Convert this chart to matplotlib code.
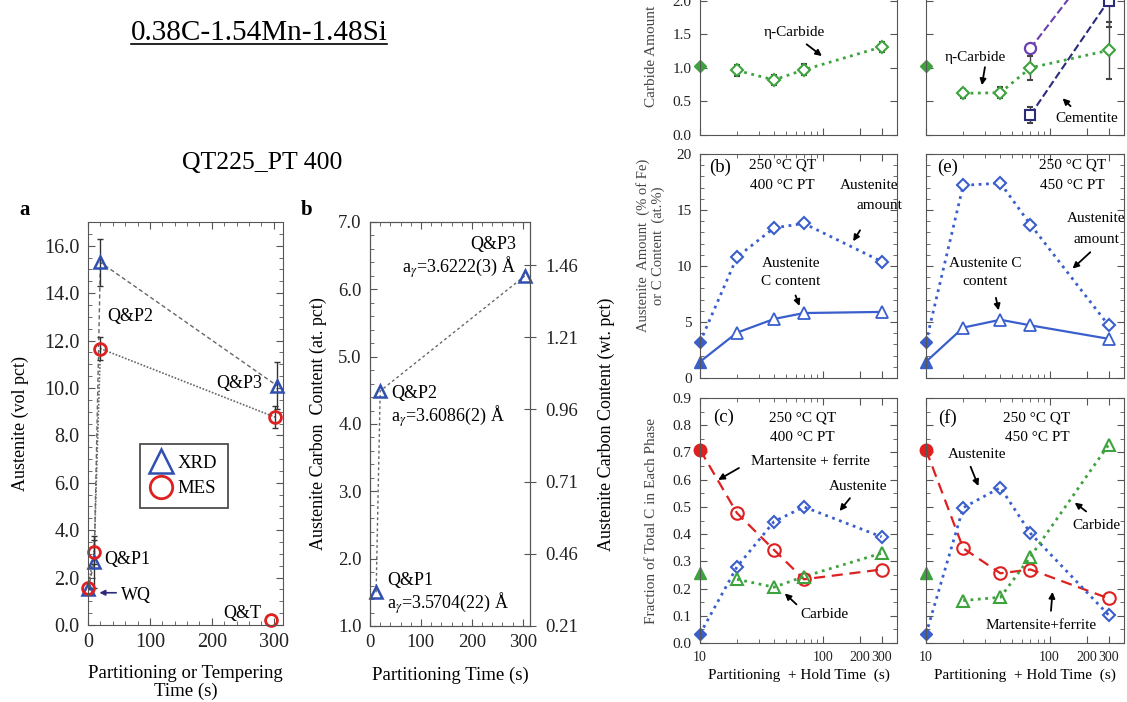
import numpy as np
import matplotlib
matplotlib.use('Agg')
import matplotlib.pyplot as plt
from matplotlib.ticker import (MultipleLocator, LogLocator, NullFormatter,
                               FormatStrFormatter)
from matplotlib.lines import Line2D

plt.rcParams['font.family'] = ['Liberation Serif', 'DejaVu Serif']
plt.rcParams['mathtext.fontset'] = 'stix'

# ---- panel a: austenite fraction, XRD vs MES ----
xrd_t = [0, 10, 20, 305]
xrd_v = [1.5, 2.67, 15.3, 10.1]
xrd_err = [0.0, 1.1, 1.0, 1.0]
mes_t = [0, 10, 20, 302]
mes_v = [1.55, 3.09, 11.66, 8.77]
mes_err = [0.0, 0.5, 0.5, 0.45]
qt_t = [295]
qt_v = [0.2]

# ---- panel b: austenite carbon content ----
pt_time = [12, 20, 304]
c_at = [1.5, 4.49, 6.2]
pt_names = ['Q&P1', 'Q&P2', 'Q&P3']
lattice = ['3.5704(22)', '3.6086(2)', '3.6222(3)']
wt_ticks = [0.21, 0.46, 0.71, 0.96, 1.21, 1.46]

# ---- right panels: partitioning + hold time (log scale) ----
t_start = [10]
t_hold = [20, 40, 70, 300]
t_cem = [70, 300]

# (a) / (d) carbide amount
eta_400_0 = [1.02]
eta_400 = [0.96, 0.82, 0.97, 1.31]
eta_400_err = [0.08, 0.08, 0.08, 0.08]
eta_450_0 = [1.02]
eta_450 = [0.62, 0.63, 1.0, 1.26]
eta_450_err = [0.07, 0.08, 0.18, 0.42]
cem_450 = [0.3, 2.0]
cem_450_err = [0.12, 0.4]
tot_450 = [1.29, 2.8]

# (b) / (e) austenite amount and C content
aus_amt_0 = [3.2]
aus_c_0 = [1.45]
aus_amt_400 = [10.8, 13.4, 13.8, 10.4]
aus_c_400 = [4.05, 5.27, 5.8, 5.9]
aus_amt_450 = [17.2, 17.4, 13.7, 4.7]
aus_c_450 = [4.5, 5.2, 4.7, 3.5]

# (c) / (f) fraction of total C in each phase
mart_0 = [0.71]
aus_f_0 = [0.033]
carb_0 = [0.256]
mart_400 = [0.477, 0.342, 0.234, 0.27]
aus_f_400 = [0.28, 0.446, 0.50, 0.39]
carb_400 = [0.234, 0.205, 0.244, 0.33]
mart_450 = [0.348, 0.256, 0.27, 0.164]
aus_f_450 = [0.497, 0.571, 0.403, 0.103]
carb_450 = [0.156, 0.168, 0.317, 0.728]

BLUE_A = '#3050b0'
RED = '#dd2020'
GREEN = '#3ea33e'
BLUE = '#3a5fcd'
NAVY = '#2b2b7a'
PURPLE = '#6a3fb0'
GRAY = '#666666'
SPINE = '#555555'

W, H = 1127, 702
fig = plt.figure(figsize=(W / 100, H / 100), dpi=100)


def px_axes(x0, y0, x1, y1):
    # pixel box (top-left origin) -> figure axes
    return fig.add_axes([x0 / W, 1 - y1 / H, (x1 - x0) / W, (y1 - y0) / H])


def style(ax, size, pad=4):
    for s in ax.spines.values():
        s.set_color(SPINE)
    ax.tick_params(which='both', direction='in', top=True, right=True,
                   colors=SPINE, labelcolor='#222222', labelsize=size, pad=pad)
    ax.tick_params(which='major', length=5)
    ax.tick_params(which='minor', length=3)


# titles
title = fig.text(259 / W, 1 - 33 / H, '0.38C-1.54Mn-1.48Si', ha='center',
                 va='center', fontsize=21)
fig.text(262 / W, 1 - 163 / H, 'QT225_PT 400', ha='center', va='center',
         fontsize=18.5)
fig.canvas.draw()
bb = title.get_window_extent().transformed(fig.transFigure.inverted())
fig.add_artist(Line2D([bb.x0, bb.x1], [bb.y0 + 0.003, bb.y0 + 0.003],
                      color='black', lw=1.2))

# ---------------- panel a ----------------
ax = px_axes(88, 222, 283, 625)
style(ax, 14.5, pad=6)
ax.plot(xrd_t, xrd_v, ls=(0, (3, 2)), color=GRAY, lw=1)
ax.plot(mes_t, mes_v, ls=(0, (1, 1)), color=GRAY, lw=1.2)
ax.errorbar(xrd_t, xrd_v, yerr=xrd_err, fmt='none', ecolor='#333333',
            elinewidth=1, capsize=2)
ax.errorbar(mes_t, mes_v, yerr=mes_err, fmt='none', ecolor='#333333',
            elinewidth=1, capsize=2)
ax.plot(xrd_t, xrd_v, '^', ms=9, mfc='none', mec=BLUE_A, mew=1.8, ls='none',
        label='XRD', clip_on=False)
ax.plot(mes_t, mes_v, 'o', ms=8.5, mfc='none', mec=RED, mew=2, ls='none',
        label='MES', clip_on=False)
ax.plot(qt_t, qt_v, 'o', ms=8.5, mfc='none', mec=RED, mew=2, ls='none',
        clip_on=False)
ax.set_xlim(0, 315)
ax.set_ylim(0, 17)
ax.xaxis.set_major_locator(MultipleLocator(100))
ax.xaxis.set_minor_locator(MultipleLocator(20))
ax.yaxis.set_major_locator(MultipleLocator(2))
ax.yaxis.set_minor_locator(MultipleLocator(0.5))
ax.yaxis.set_major_formatter(FormatStrFormatter('%.1f'))
ax.set_xlabel('Partitioning or Tempering\nTime (s)', fontsize=13.5,
              linespacing=1.05, labelpad=9)
ax.set_ylabel('Austenite (vol pct)', fontsize=13)
ax.yaxis.set_label_coords(-0.3, 0.5)
ax.text(68, 13.0, 'Q&P2', fontsize=13, ha='center', va='center')
ax.text(245, 10.2, 'Q&P3', fontsize=13, ha='center', va='center')
ax.text(63, 2.78, 'Q&P1', fontsize=13, ha='center', va='center')
ax.text(78, 1.26, 'WQ', fontsize=13, ha='center', va='center')
ax.annotate('', xy=(14, 1.36), xytext=(50, 1.36),
            arrowprops=dict(arrowstyle='-|>', color=NAVY, lw=1.2,
                            mutation_scale=8))
ax.text(249, 0.5, 'Q&T', fontsize=13, ha='center', va='center')
leg = ax.legend(loc='center', bbox_to_anchor=(0.492, 0.37), fontsize=13.5,
                markerscale=1.9, handlelength=1.1, handletextpad=0.35,
                borderpad=0.55, labelspacing=0.45, fancybox=False,
                edgecolor='#222222')
leg.get_frame().set_linewidth(1.3)
fig.text(25 / W, 1 - 210 / H, 'a', fontsize=15, fontweight='bold',
         ha='center', va='center')

# ---------------- panel b ----------------
ax = px_axes(370, 222, 530, 626)
style(ax, 13.5, pad=6)
ax.tick_params(right=False)
ax.plot(pt_time, c_at, ls=(0, (2, 2)), color=GRAY, lw=1)
ax.plot(pt_time, c_at, '^', ms=8, mfc='none', mec=BLUE_A, mew=1.8, ls='none',
        clip_on=False)
ax.set_xlim(0, 314)
ax.set_ylim(1, 7)
ax.xaxis.set_major_locator(MultipleLocator(100))
ax.xaxis.set_minor_locator(MultipleLocator(20))
ax.yaxis.set_major_locator(MultipleLocator(1))
ax.yaxis.set_minor_locator(MultipleLocator(0.2))
ax.yaxis.set_major_formatter(FormatStrFormatter('%.1f'))
ax.set_xlabel('Partitioning Time (s)', fontsize=13.5, labelpad=11)
ax.set_ylabel('Austenite Carbon  Content (at. pct)', fontsize=13)
ax.yaxis.set_label_coords(-0.27, 0.5)
ax.text(287, 6.66, pt_names[2], fontsize=13, ha='right', va='center')
ax.text(287, 6.33, r'a$_\gamma$=' + lattice[2] + ' Å', fontsize=13,
        ha='right', va='center')
ax.text(41, 4.46, pt_names[1], fontsize=13, ha='left', va='center')
ax.text(41, 4.12, r'a$_\gamma$=' + lattice[1] + ' Å', fontsize=13,
        ha='left', va='center')
ax.text(33, 1.68, pt_names[0], fontsize=13, ha='left', va='center')
ax.text(33, 1.34, r'a$_\gamma$=' + lattice[0] + ' Å', fontsize=13,
        ha='left', va='center')
ax2 = ax.twinx()
for s in ax2.spines.values():
    s.set_color(SPINE)
ax2.set_ylim(0.21, 0.21 + 6 * 0.25 / 1.072)
ax2.set_yticks(wt_ticks)
ax2.set_yticklabels(['%.2f' % v for v in wt_ticks])
ax2.tick_params(direction='inout', length=8, colors=SPINE,
                labelcolor='#222222', labelsize=13.5, pad=7)
ax2.set_ylabel('Austenite Carbon Content (wt. pct)', fontsize=13)
ax2.yaxis.set_label_coords(1.42, 0.5)
fig.text(307 / W, 1 - 210 / H, 'b', fontsize=15, fontweight='bold',
         ha='center', va='center')

# ---------------- right grid ----------------
cols = [(700, 897), (926, 1124)]
rows = [(-33, 135), (154, 378), (398, 643)]
axs = [[px_axes(c[0], r[0], c[1], r[1]) for c in cols] for r in rows]

for i, row in enumerate(axs):
    for j, a in enumerate(row):
        style(a, 11, pad=6)
        a.tick_params(axis='x', labelsize=10)
        a.set_xscale('log')
        a.set_xlim(10, 400)
        a.set_xticks([10, 100, 200, 300])
        a.xaxis.set_minor_locator(LogLocator(subs=np.arange(2, 10)))
        a.xaxis.set_minor_formatter(NullFormatter())
        if i == 2:
            a.set_xticklabels(['10', '100', '200', '300'])
            a.set_xlabel('Partitioning  + Hold Time  (s)', fontsize=11,
                         labelpad=3)
        else:
            a.set_xticklabels([])
        if j == 1:
            a.tick_params(axis='y', labelleft=False)

txt = dict(fontsize=11, ha='center', va='center')
arw = dict(arrowstyle='-|>', color='black', lw=1.3, mutation_scale=9)


def note(a, xy, xytext):
    a.annotate('', xy=xy, xytext=xytext, xycoords='axes fraction',
               textcoords='axes fraction', arrowprops=arw)


# top row: carbide amount
for a in axs[0]:
    a.set_ylim(0, 2.5)
    a.yaxis.set_major_locator(MultipleLocator(0.5))
    a.yaxis.set_major_formatter(FormatStrFormatter('%.1f'))
a = axs[0][0]
a.plot(t_hold, eta_400, ':', color=GREEN, lw=2)
a.errorbar(t_hold, eta_400, yerr=eta_400_err, fmt='D', ms=6.5, mfc='white',
           mec=GREEN, mew=1.5, ecolor='#444444', elinewidth=1, capsize=2)
a.plot(t_start, eta_400_0, 'D', ms=6, color=GREEN, clip_on=False)
a.set_ylabel('Carbide Amount', fontsize=11, color='#444444')
a.yaxis.set_label_coords(-0.215, 0.47)
a.text(0.48, 0.61, 'η-Carbide', transform=a.transAxes, **txt)
note(a, (0.63, 0.46), (0.53, 0.55))

a = axs[0][1]
a.plot(t_cem, tot_450, '--', color=PURPLE, lw=1.5)
a.plot(t_cem, cem_450, '--', color=NAVY, lw=1.5)
a.plot(t_hold, eta_450, ':', color=GREEN, lw=2)
a.errorbar(t_hold, eta_450, yerr=eta_450_err, fmt='D', ms=6.5, mfc='white',
           mec=GREEN, mew=1.5, ecolor='#444444', elinewidth=1, capsize=2)
a.errorbar(t_cem, cem_450, yerr=cem_450_err, fmt='s', ms=6.5, mfc='white',
           mec=NAVY, mew=1.5, ecolor='#444444', elinewidth=1, capsize=2)
a.plot(t_cem, tot_450, 'o', ms=8, mfc='white', mec=PURPLE, mew=1.6)
a.plot(t_start, eta_450_0, 'D', ms=6, color=GREEN, clip_on=False)
a.text(0.25, 0.46, 'η-Carbide', transform=a.transAxes, **txt)
note(a, (0.28, 0.28), (0.30, 0.42))
a.text(0.81, 0.10, 'Cementite', transform=a.transAxes, **txt)
note(a, (0.68, 0.23), (0.74, 0.16))

# middle row: austenite amount / C content
for a in axs[1]:
    a.set_ylim(0, 20)
    a.yaxis.set_major_locator(MultipleLocator(5))
    a.yaxis.set_minor_locator(MultipleLocator(1))
for a, amt, cc in [(axs[1][0], aus_amt_400, aus_c_400),
                   (axs[1][1], aus_amt_450, aus_c_450)]:
    a.plot(t_start + t_hold, aus_amt_0 + amt, ':', color=BLUE, lw=2)
    a.plot(t_start + t_hold, aus_c_0 + cc, '-', color=BLUE, lw=1.6)
    a.plot(t_hold, amt, 'D', ms=6.5, mfc='white', mec=BLUE, mew=1.5)
    a.plot(t_hold, cc, '^', ms=8, mfc='white', mec=BLUE, mew=1.3,
           clip_on=False)
    a.plot(t_start, aus_amt_0, 'D', ms=6.5, color=BLUE, clip_on=False)
    a.plot(t_start, aus_c_0, '^', ms=8, color=BLUE, clip_on=False)
a = axs[1][0]
a.set_ylabel('Austenite  Amount  (% of Fe)\nor C Content  (at.%)',
             fontsize=10.5, color='#444444', linespacing=1.1)
a.yaxis.set_label_coords(-0.18, 0.59)
a.text(0.10, 0.94, '(b)', transform=a.transAxes, fontsize=13.5, ha='center',
       va='center')
a.text(0.42, 0.95, '250 °C QT', transform=a.transAxes, **txt)
a.text(0.42, 0.86, '400 °C PT', transform=a.transAxes, **txt)
a.text(0.86, 0.86, 'Austenite', transform=a.transAxes, **txt)
a.text(0.91, 0.77, 'amount', transform=a.transAxes, **txt)
note(a, (0.77, 0.60), (0.82, 0.67))
a.text(0.46, 0.51, 'Austenite', transform=a.transAxes, **txt)
a.text(0.46, 0.43, 'C content', transform=a.transAxes, **txt)
note(a, (0.51, 0.31), (0.48, 0.38))
a = axs[1][1]
a.text(0.11, 0.94, '(e)', transform=a.transAxes, fontsize=13.5, ha='center',
       va='center')
a.text(0.74, 0.95, '250 °C QT', transform=a.transAxes, **txt)
a.text(0.74, 0.86, '450 °C PT', transform=a.transAxes, **txt)
a.text(0.86, 0.71, 'Austenite', transform=a.transAxes, **txt)
a.text(0.86, 0.62, 'amount', transform=a.transAxes, **txt)
note(a, (0.73, 0.48), (0.84, 0.57))
a.text(0.30, 0.51, 'Austenite C', transform=a.transAxes, **txt)
a.text(0.30, 0.43, 'content', transform=a.transAxes, **txt)
note(a, (0.37, 0.29), (0.35, 0.37))

# bottom row: fraction of total C
for a in axs[2]:
    a.set_ylim(0, 0.9)
    a.yaxis.set_major_locator(MultipleLocator(0.1))
    a.yaxis.set_minor_locator(MultipleLocator(0.05))
    a.yaxis.set_major_formatter(FormatStrFormatter('%.1f'))
for a, m, au, cb in [(axs[2][0], mart_400, aus_f_400, carb_400),
                     (axs[2][1], mart_450, aus_f_450, carb_450)]:
    a.plot(t_start + t_hold, mart_0 + m, '--', color=RED, lw=1.6,
           dashes=(5, 3))
    a.plot(t_start + t_hold, aus_f_0 + au, ':', color=BLUE, lw=2)
    a.plot(t_hold, cb, ':', color=GREEN, lw=2)
    a.plot(t_hold, m, 'o', ms=9, mfc='none', mec=RED, mew=1.5)
    a.plot(t_hold, au, 'D', ms=6.5, mfc='none', mec=BLUE, mew=1.5)
    a.plot(t_hold, cb, '^', ms=8.5, mfc='none', mec=GREEN, mew=1.5)
    a.plot(t_start, mart_0, 'o', ms=9, color=RED, clip_on=False)
    a.plot(t_start, aus_f_0, 'D', ms=6.5, color=BLUE, clip_on=False)
    a.plot(t_start, carb_0, '^', ms=8, color=GREEN, clip_on=False)
a = axs[2][0]
a.set_ylabel('Fraction of Total C in Each Phase', fontsize=11,
             color='#444444')
a.yaxis.set_label_coords(-0.215, 0.5)
a.text(0.12, 0.92, '(c)', transform=a.transAxes, fontsize=13.5, ha='center',
       va='center')
a.text(0.52, 0.92, '250 °C QT', transform=a.transAxes, **txt)
a.text(0.52, 0.84, '400 °C PT', transform=a.transAxes, **txt)
a.text(0.56, 0.74, 'Martensite + ferrite', transform=a.transAxes, **txt)
note(a, (0.08, 0.66), (0.21, 0.72))
a.text(0.80, 0.64, 'Austenite', transform=a.transAxes, **txt)
note(a, (0.70, 0.53), (0.77, 0.60))
a.text(0.63, 0.115, 'Carbide', transform=a.transAxes, **txt)
note(a, (0.42, 0.21), (0.50, 0.15))
a = axs[2][1]
a.text(0.11, 0.92, '(f)', transform=a.transAxes, fontsize=13.5, ha='center',
       va='center')
a.text(0.56, 0.92, '250 °C QT', transform=a.transAxes, **txt)
a.text(0.56, 0.84, '450 °C PT', transform=a.transAxes, **txt)
a.text(0.26, 0.77, 'Austenite', transform=a.transAxes, **txt)
note(a, (0.27, 0.63), (0.22, 0.73))
a.text(0.86, 0.48, 'Carbide', transform=a.transAxes, **txt)
note(a, (0.74, 0.58), (0.82, 0.53))
a.text(0.58, 0.07, 'Martensite+ferrite', transform=a.transAxes, **txt)
note(a, (0.64, 0.22), (0.63, 0.12))

fig.savefig('out.png', dpi=100)
